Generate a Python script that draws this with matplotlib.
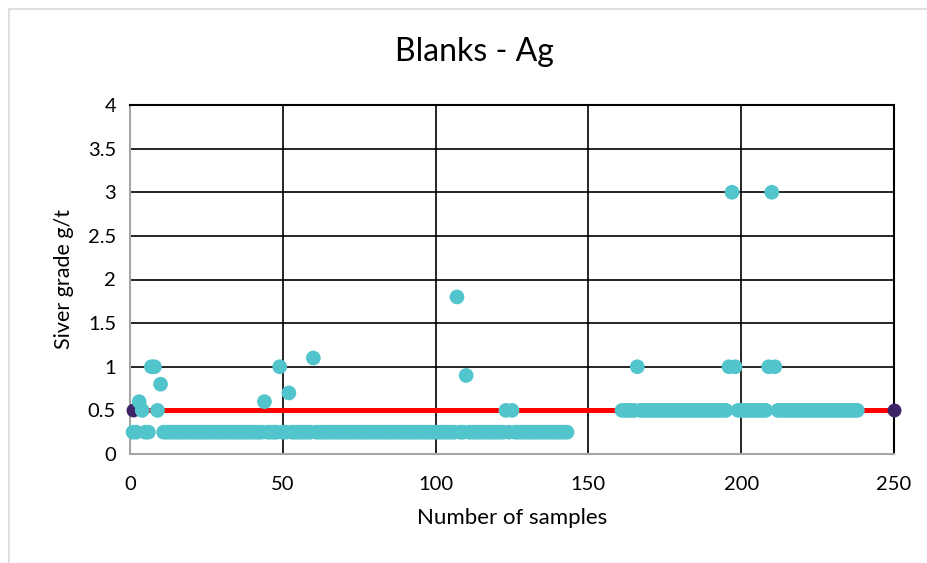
import matplotlib
matplotlib.use("Agg")
import matplotlib.pyplot as plt
from matplotlib.patches import Rectangle

plt.rcParams["font.family"] = ["Lato", "DejaVu Sans"]

# Blank sample results (Ag, g/t) by sample number
sample_ids = list(range(1, 144)) + list(range(161, 239))
ag_grade = [
    # samples 1-143
    0.25, 0.25, 0.6, 0.5, 0.25, 0.25, 1.0, 1.0, 0.5, 0.8,
    0.25, 0.25, 0.25, 0.25, 0.25, 0.25, 0.25, 0.25, 0.25, 0.25,
    0.25, 0.25, 0.25, 0.25, 0.25, 0.25, 0.25, 0.25, 0.25, 0.25,
    0.25, 0.25, 0.25, 0.25, 0.25, 0.25, 0.25, 0.25, 0.25, 0.25,
    0.25, 0.25, 0.25, 0.6, 0.25, 0.25, 0.25, 0.25, 1.0, 0.25,
    0.25, 0.7, 0.25, 0.25, 0.25, 0.25, 0.25, 0.25, 0.25, 1.1,
    0.25, 0.25, 0.25, 0.25, 0.25, 0.25, 0.25, 0.25, 0.25, 0.25,
    0.25, 0.25, 0.25, 0.25, 0.25, 0.25, 0.25, 0.25, 0.25, 0.25,
    0.25, 0.25, 0.25, 0.25, 0.25, 0.25, 0.25, 0.25, 0.25, 0.25,
    0.25, 0.25, 0.25, 0.25, 0.25, 0.25, 0.25, 0.25, 0.25, 0.25,
    0.25, 0.25, 0.25, 0.25, 0.25, 0.25, 1.8, 0.25, 0.25, 0.9,
    0.25, 0.25, 0.25, 0.25, 0.25, 0.25, 0.25, 0.25, 0.25, 0.25,
    0.25, 0.25, 0.5, 0.25, 0.5, 0.25, 0.25, 0.25, 0.25, 0.25,
    0.25, 0.25, 0.25, 0.25, 0.25, 0.25, 0.25, 0.25, 0.25, 0.25,
    0.25, 0.25, 0.25,
    # samples 161-238
    0.5, 0.5, 0.5, 0.5, 0.5, 1.0, 0.5, 0.5, 0.5, 0.5,
    0.5, 0.5, 0.5, 0.5, 0.5, 0.5, 0.5, 0.5, 0.5, 0.5,
    0.5, 0.5, 0.5, 0.5, 0.5, 0.5, 0.5, 0.5, 0.5, 0.5,
    0.5, 0.5, 0.5, 0.5, 0.5, 1.0, 3.0, 1.0, 0.5, 0.5,
    0.5, 0.5, 0.5, 0.5, 0.5, 0.5, 0.5, 0.5, 1.0, 3.0,
    1.0, 0.5, 0.5, 0.5, 0.5, 0.5, 0.5, 0.5, 0.5, 0.5,
    0.5, 0.5, 0.5, 0.5, 0.5, 0.5, 0.5, 0.5, 0.5, 0.5,
    0.5, 0.5, 0.5, 0.5, 0.5, 0.5, 0.5, 0.5,
]

# Acceptance limit line
limit_x = [1, 250]
limit_y = [0.5, 0.5]

x_ticks = [0, 50, 100, 150, 200, 250]
y_ticks = [0, 0.5, 1, 1.5, 2, 2.5, 3, 3.5, 4]
y_tick_labels = ["0", "0.5", "1", "1.5", "2", "2.5", "3", "3.5", "4"]

fig = plt.figure(figsize=(9.28, 5.63), dpi=100)
fig.patches.append(Rectangle((9 / 928, -0.1), 1.2, 1 - 9 / 563 + 0.1,
                             transform=fig.transFigure, fill=False,
                             edgecolor="#D9D9D9", linewidth=1.2, zorder=0))

ax = fig.add_axes([130 / 928, 1 - 454 / 563, 764 / 928, 349 / 563])

ax.plot(limit_x, limit_y, color="#FF0000", linewidth=3.6, zorder=3,
        marker="o", markersize=9, markerfacecolor="#3F2468",
        markeredgecolor="#3F2468", solid_capstyle="butt", clip_on=False)
ax.scatter(sample_ids, ag_grade, s=112, color="#52C4CB", edgecolors="none",
           zorder=4, clip_on=False)

ax.set_xlim(0, 250)
ax.set_ylim(0, 4)
ax.set_xticks(x_ticks)
ax.set_yticks(y_ticks)
ax.set_yticklabels(y_tick_labels)
ax.grid(True, color="black", linewidth=1.2, zorder=1)
ax.set_axisbelow(True)
ax.tick_params(length=0, labelsize=14.5, pad=10)
ax.tick_params(axis="x", pad=16)

for side in ("left", "bottom"):
    ax.spines[side].set_color("#A6A6A6")
    ax.spines[side].set_linewidth(1.5)
for side in ("top", "right"):
    ax.spines[side].set_color("black")
    ax.spines[side].set_linewidth(1.5)

ax.set_xlabel("Number of samples", fontsize=16, labelpad=11)
ax.set_ylabel("Siver grade g/t", fontsize=15.5, labelpad=10)
fig.text(474 / 928, 1 - 52 / 563, "Blanks - Ag", fontsize=23,
         ha="center", va="center")

fig.savefig("out.png", dpi=100)
